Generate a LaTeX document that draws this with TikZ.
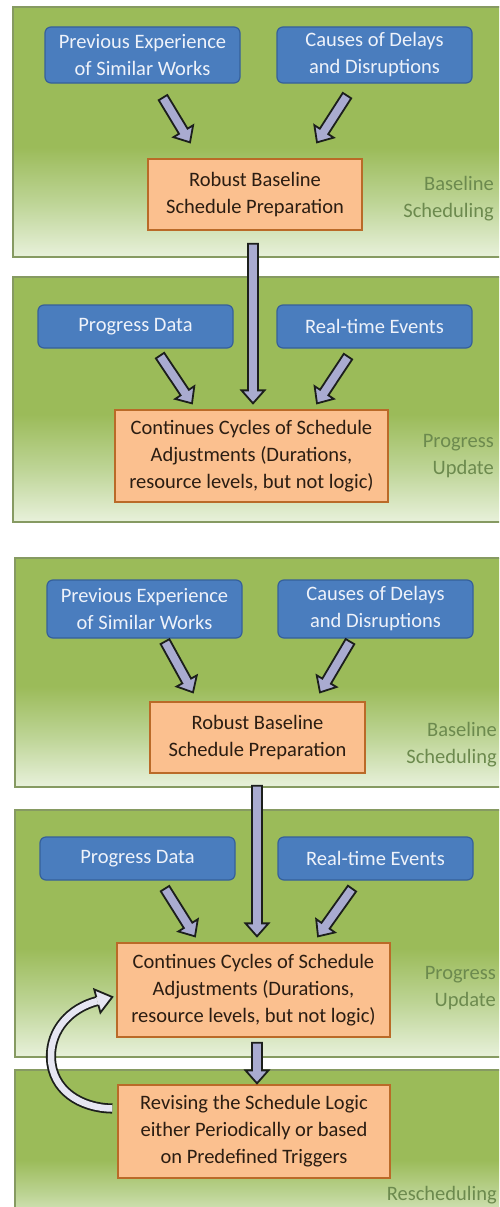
\documentclass[tikz,border=0pt]{standalone}
\usepackage{fontspec}
\setmainfont{Carlito}
\usetikzlibrary{calc}

\definecolor{panelgreen}{HTML}{9BBB59}
\definecolor{panelmid}{HTML}{BDD495}
\definecolor{panelpale}{HTML}{E8F1DB}
\definecolor{panelline}{HTML}{869A62}
\definecolor{inblue}{HTML}{4A7DBE}
\definecolor{inblueline}{HTML}{36609A}
\definecolor{intext}{HTML}{EEF2FA}
\definecolor{stepfill}{HTML}{FBC08F}
\definecolor{stepline}{HTML}{BA6A28}
\definecolor{steptext}{HTML}{2B1D12}
\definecolor{phasetext}{HTML}{6C8A4E}
\definecolor{arrowfill}{HTML}{A9ABD0}
\definecolor{arrowline}{HTML}{1C1F1C}
\definecolor{loopfill}{HTML}{E6E6F2}

% phase panel fill: green at the top, fading to pale at the bottom
\pgfdeclareverticalshading{panelshade}{100bp}{%
  color(0bp)=(panelpale); color(25bp)=(panelpale);
  color(36bp)=(panelmid); color(47bp)=(panelgreen);
  color(75bp)=(panelgreen); color(100bp)=(panelgreen)}

\tikzset{
  every node/.style={font=\fontsize{20.5}{27}\selectfont},
  panel/.style={shading=panelshade, draw=panelline, line width=1.2pt},
  inputbox/.style={draw=inblueline, fill=inblue, line width=1.2pt,
    rounded corners=6pt, text=intext, align=center,
    minimum width=195pt, inner sep=0pt},
  stepbox/.style={draw=stepline, fill=stepfill, line width=1.3pt,
    text=steptext, align=center, inner sep=0pt},
  phaselabel/.style={text=phasetext, align=right, anchor=east, inner sep=0pt},
  blockarr/.style={draw=arrowline, fill=arrowfill, line width=1.8pt, line join=miter},
  looparr/.style={draw=arrowline, line width=1.8pt, double=loopfill, double distance=6.5pt},
  loophead/.style={draw=arrowline, fill=loopfill, line width=1.8pt, line join=miter},
}

% block arrow from coordinate #1 to coordinate #2
\newcommand\blkarrow[2]{%
  \coordinate (bah) at ($(#2)!13pt!(#1)$);
  \draw[blockarr]
    ($(#1)!5pt!90:(#2)$) -- ($(bah)!5pt!90:(#2)$) -- ($(bah)!11.5pt!90:(#2)$)
    -- (#2) -- ($(bah)!11.5pt!-90:(#2)$) -- ($(bah)!5pt!-90:(#2)$)
    -- ($(#1)!5pt!-90:(#2)$) -- cycle;}

\begin{document}
\begin{tikzpicture}[x=1pt,y=-1pt]
\useasboundingbox (0,0) rectangle (499,1207);
\clip (0,0) rectangle (499,1207);

% phase panels
\shade[panel] (13,7) rectangle (520,257);
\shade[panel] (13,277) rectangle (520,522);
\shade[panel] (15,558) rectangle (520,787);
\shade[panel] (15,810) rectangle (520,1057);
\shade[panel] (15,1070) rectangle (520,1230);

% upper diagram
\node[inputbox, minimum height=56pt] (b1) at (142.5,55) {Previous Experience\\of Similar Works};
\node[inputbox, minimum height=56pt] (b2) at (374.5,55) {Causes of Delays\\and Disruptions};
\node[stepbox, minimum width=214pt, minimum height=71pt] (o1) at (255,194.5) {Robust Baseline\\Schedule Preparation};
\node[phaselabel] (l1) at (494,199) {Baseline\\Scheduling};

\node[inputbox, minimum height=43pt] (b3) at (135.5,326.5) {Progress Data};
\node[inputbox, minimum height=43pt] (b4) at (374.5,326.5) {Real-time Events};
\node[stepbox, minimum width=273pt, minimum height=92pt] (o2) at (251.5,456) {Continues Cycles of Schedule\\Adjustments (Durations,\\resource levels, but not logic)};
\node[phaselabel] (l2) at (494,456) {Progress\\Update};

% lower diagram
\node[inputbox, minimum height=58pt] (b5) at (144.5,609) {Previous Experience\\of Similar Works};
\node[inputbox, minimum height=58pt] (b6) at (375.5,609) {Causes of Delays\\and Disruptions};
\node[stepbox, minimum width=215pt, minimum height=71pt] (o3) at (257.5,737.5) {Robust Baseline\\Schedule Preparation};
\node[phaselabel] (l3) at (497,745) {Baseline\\Scheduling};

\node[inputbox, minimum height=43pt] (b7) at (137.5,858.5) {Progress Data};
\node[inputbox, minimum height=43pt] (b8) at (375.5,858.5) {Real-time Events};
\node[stepbox, minimum width=273pt, minimum height=94pt] (o4) at (253.5,990) {Continues Cycles of Schedule\\Adjustments (Durations,\\resource levels, but not logic)};
\node[phaselabel] (l4) at (496,988) {Progress\\Update};

\node[stepbox, minimum width=272pt, minimum height=93pt] (o5) at (254,1131.5) {Revising the Schedule Logic\\either Periodically or based\\on Predefined Triggers};
\node[phaselabel] (l5) at (497,1195) {Rescheduling};

% arrow end points
\coordinate (a1s) at ($(b1.south)+(20.5,14)$);  \coordinate (a1e) at ($(o1.north)+(-65,-16)$);
\coordinate (a2s) at ($(b2.south)+(-27.5,12)$); \coordinate (a2e) at ($(o1.north)+(62,-16)$);
\coordinate (v1s) at ($(o1.south)+(-2,13)$);    \coordinate (v1e) at ($(o2.north)+(1.5,-6)$);
\coordinate (a3s) at ($(b3.south)+(24.5,7)$);   \coordinate (a3e) at ($(o2.north)+(-59.5,-6)$);
\coordinate (a4s) at ($(b4.south)+(-26.5,8)$);  \coordinate (a4e) at ($(o2.north)+(65.5,-6)$);
\coordinate (a5s) at ($(b5.south)+(20.5,3)$);   \coordinate (a5e) at ($(o3.north)+(-64.5,-9)$);
\coordinate (a6s) at ($(b6.south)+(-25.5,3)$);  \coordinate (a6e) at ($(o3.north)+(62.5,-9)$);
\coordinate (v2s) at ($(o3.south)+(-0.5,12)$);  \coordinate (v2e) at ($(o4.north)+(3.5,-6)$);
\coordinate (a7s) at ($(b7.south)+(27.5,8)$);   \coordinate (a7e) at ($(o4.north)+(-58.5,-6)$);
\coordinate (a8s) at ($(b8.south)+(-23.5,8)$);  \coordinate (a8e) at ($(o4.north)+(64.5,-6)$);
\coordinate (v3s) at ($(o4.south)+(3.5,5)$);    \coordinate (v3e) at ($(o5.north)+(3,-1)$);

\blkarrow{a1s}{a1e} \blkarrow{a2s}{a2e} \blkarrow{v1s}{v1e}
\blkarrow{a3s}{a3e} \blkarrow{a4s}{a4e}
\blkarrow{a5s}{a5e} \blkarrow{a6s}{a6e} \blkarrow{v2s}{v2e}
\blkarrow{a7s}{a7e} \blkarrow{a8s}{a8e} \blkarrow{v3s}{v3e}

% feedback loop from rescheduling back to the adjustment cycles
\coordinate (lps) at ($(o5.west)+(-5,-23)$);
\coordinate (lpt) at ($(o4.west)+(-4,7)$);
\coordinate (lpb) at ($(lpt)+(-15,4)$);
\draw[looparr] (lps) .. controls (80,1108) and (52,1090) .. (51,1058)
  .. controls (50,1030) and (70,1008) .. (lpb);
\filldraw[loophead] ($(lpb)!4.1pt!90:(lpt)$) -- ($(lpb)!12pt!90:(lpt)$) -- (lpt)
  -- ($(lpb)!12pt!-90:(lpt)$) -- ($(lpb)!4.1pt!-90:(lpt)$);
\end{tikzpicture}
\end{document}
